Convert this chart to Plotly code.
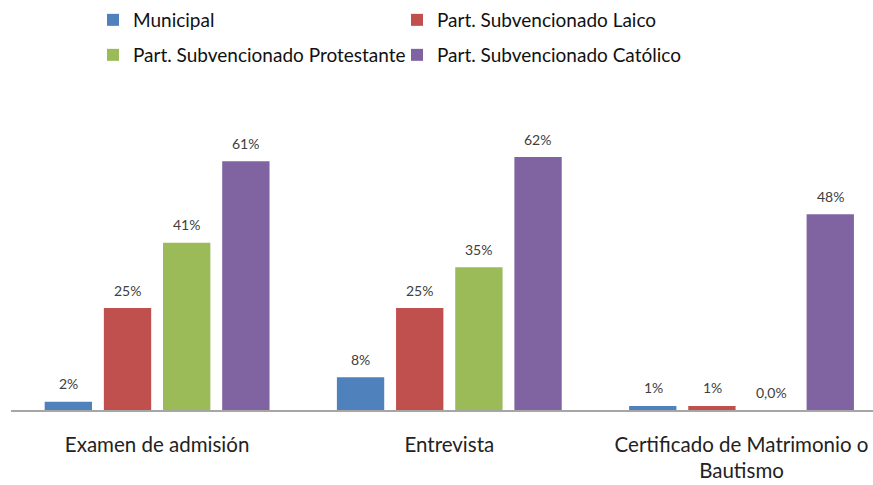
import plotly.graph_objects as go

categories = ["Examen de admisión", "Entrevista", "Certificado de Matrimonio o<br>Bautismo"]
series_names = ["Municipal", "Part. Subvencionado Laico",
                "Part. Subvencionado Protestante", "Part. Subvencionado Católico"]
municipal = [2, 8, 1]
laico = [25, 25, 1]
protestante = [41, 35, 0]
catolico = [61, 62, 48]
labels_municipal = ["2%", "8%", "1%"]
labels_laico = ["25%", "25%", "1%"]
labels_protestante = ["41%", "35%", "0,0%"]
labels_catolico = ["61%", "62%", "48%"]
colors = ["#4F81BD", "#C0504D", "#9BBB59", "#8064A2"]

values = [municipal, laico, protestante, catolico]
labels = [labels_municipal, labels_laico, labels_protestante, labels_catolico]
legend_ids = ["legend", "legend", "legend2", "legend2"]

FONT = "Lato, Open Sans, sans-serif"

fig = go.Figure()
for name, vals, col, lg in zip(series_names, values, colors, legend_ids):
    fig.add_trace(go.Bar(x=categories, y=vals, name=name, marker_color=col,
                         marker_line_width=0, hoverinfo="skip", legend=lg))

slot_px = 59
annotations = []
for i, (vals, labs) in enumerate(zip(values, labels)):
    for c, v, t in zip(categories, vals, labs):
        annotations.append(dict(x=c, y=v, text=t, showarrow=False,
                                xshift=(i - 1.5) * slot_px, yshift=18,
                                yanchor="middle",
                                font=dict(family=FONT, size=14, color="#404040")))

legend_common = dict(orientation="h", xref="container", yref="container",
                     xanchor="left", yanchor="middle",
                     entrywidth=259, entrywidthmode="pixels", itemwidth=30,
                     font=dict(family=FONT, size=19, color="#111111"),
                     bgcolor="rgba(0,0,0,0)")

fig.update_layout(
    width=873, height=485,
    margin=dict(l=11, r=0, t=100, b=75, autoexpand=False),
    paper_bgcolor="white", plot_bgcolor="white",
    barmode="group", bargap=0.19, bargroupgap=0.2,
    font=dict(family=FONT, color="#222222"),
    legend=dict(x=93 / 873, y=1 - 20 / 485, **legend_common),
    legend2=dict(x=93 / 873, y=1 - 55 / 485, **legend_common),
    annotations=annotations,
    xaxis=dict(range=[-0.5, 2.45], showline=True, linecolor="#A6A6A6", linewidth=2,
               ticks="", tickfont=dict(family=FONT, size=20.5, color="#222222"),
               ticklabelstandoff=15, showgrid=False, zeroline=False,
               fixedrange=True, automargin=False),
    yaxis=dict(range=[0, 76], visible=False, showgrid=False, zeroline=False,
               automargin=False, fixedrange=True),
)
fig.write_html("out.html", config={"displayModeBar": False},
               post_script="document.body.style.margin='0';document.body.style.overflow='hidden';")
